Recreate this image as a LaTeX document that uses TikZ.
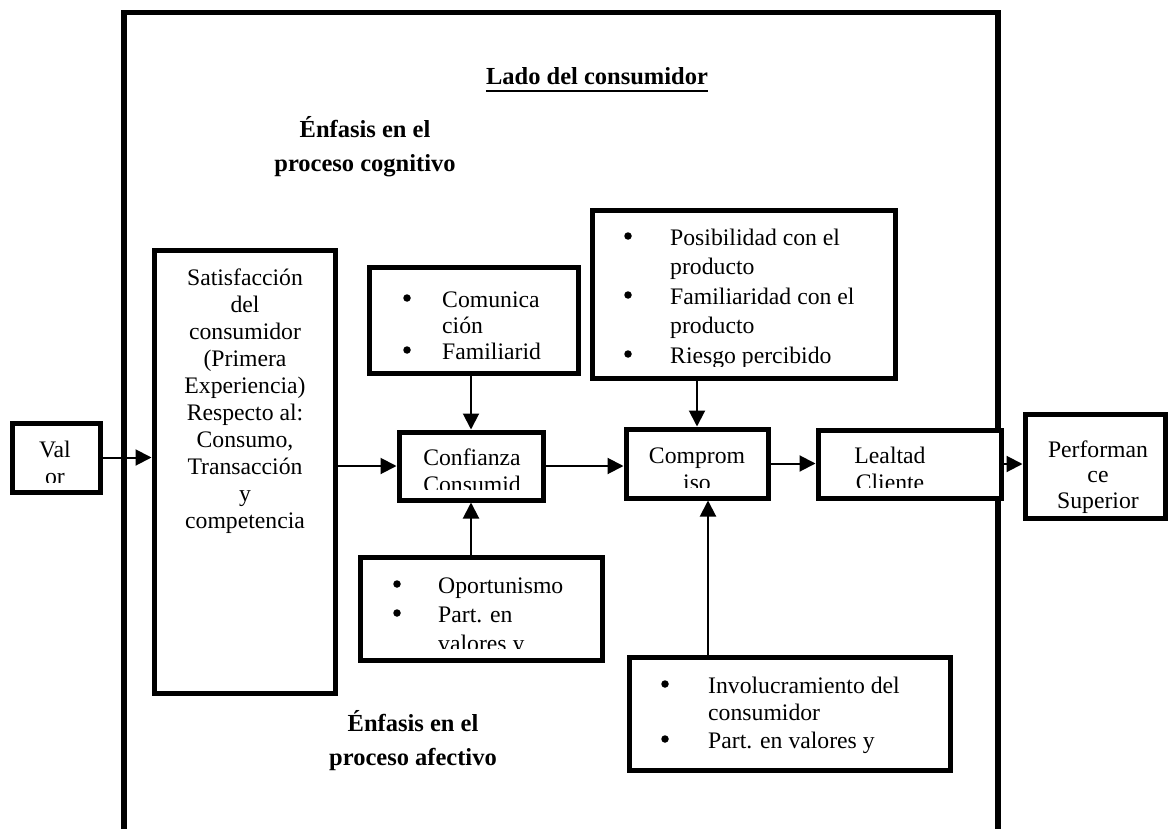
\documentclass[tikz,border=0pt]{standalone}
\usepackage{fontspec}
\setmainfont{Liberation Serif}
\usetikzlibrary{arrows.meta}
\tikzset{
  frame/.style={draw, line width=5.5pt, inner sep=0pt},
  box/.style={draw, line width=5pt, inner sep=0pt, fill=white},
  conn/.style={line width=2pt, -{Triangle[length=16pt,width=16pt]}},
  txt/.style={font=\fontsize{23.7}{27}\selectfont, inner sep=0pt, anchor=base},
  ltxt/.style={txt, anchor=base west},
  bul/.style={circle, fill=black, inner sep=0pt, minimum size=7.5pt},
  btxt/.style={font=\fontsize{24.5}{34}\selectfont\bfseries, inner sep=0pt, anchor=base},
}
\begin{document}
\begin{tikzpicture}[x=1pt,y=-1pt]
\useasboundingbox (0,0) rectangle (1169,829);
\clip (0,0) rectangle (1169,829);
% outer frame (open at the bottom of the page)
\node[frame, minimum width=874, minimum height=900] (frm) at (561,462.3) {};
% headings
\node[btxt] (title) at (597,85) {Lado del consumidor};
\draw[line width=1.6pt] ([yshift=-6pt]title.base west) -- ([yshift=-6pt]title.base east);
\node[btxt] (cog1) at (365,138) {Énfasis en el};
\node[btxt] (cog2) at (365,172) {proceso cognitivo};
\node[btxt] (af1) at (413,731) {Énfasis en el};
\node[btxt] (af2) at (413,765) {proceso afectivo};
% boxes
\node[box, minimum width=88, minimum height=69] (val) at (56,457.5) {};
\node[box, minimum width=181, minimum height=443] (sat) at (244.5,471.5) {};
\node[box, minimum width=144, minimum height=68] (conf) at (471,466) {};
\node[box, minimum width=142, minimum height=69] (comp) at (697,463.5) {};
\node[box, minimum width=183, minimum height=68] (leal) at (909.5,464) {};
\node[box, minimum width=140, minimum height=104] (perf) at (1095,466) {};
\node[box, minimum width=209, minimum height=106] (comun) at (473.5,320) {};
\node[box, minimum width=242, minimum height=103] (opor) at (481,608.5) {};
\node[box, minimum width=303, minimum height=168] (posib) at (743.5,294) {};
\node[box, minimum width=321, minimum height=113] (invol) at (789.5,713.5) {};
% texts
\begin{scope}
\clip (14,425) rectangle (98,482);
\node[txt] (val1) at (55,457) {Val};
\node[txt] (val2) at (55,484) {or};
\end{scope}
\node[txt] (s0) at (245,285) {Satisfacción};
\node[txt] (s1) at (245,312) {del};
\node[txt] (s2) at (245,339) {consumidor};
\node[txt] (s3) at (245,366) {(Primera};
\node[txt] (s4) at (245,393) {Experiencia)};
\node[txt] (s5) at (245,420) {Respecto al:};
\node[txt] (s6) at (245,447) {Consumo,};
\node[txt] (s7) at (245,474) {Transacción};
\node[txt] (s8) at (245,501) {y};
\node[txt] (s9) at (245,528) {competencia};
\begin{scope}
\clip (401,434) rectangle (541,489);
\node[txt] (c1) at (472,465) {Confianza};
\node[txt] (c2) at (472,492) {Consumid};
\end{scope}
\begin{scope}
\clip (628,431) rectangle (766,487);
\node[txt] (m1) at (697,463) {Comprom};
\node[txt] (m2) at (697,490) {iso};
\end{scope}
\begin{scope}
\clip (820,432) rectangle (999,487);
\node[txt] (l1) at (890,463) {Lealtad};
\node[txt] (l2) at (890,490) {Cliente};
\end{scope}
\node[txt] (p1) at (1098,457) {Performan};
\node[txt] (p2) at (1098,482) {ce};
\node[txt] (p3) at (1098,508) {Superior};
% Comunicacion list
\node[bul] (cb1) at (407,298) {};
\node[ltxt] (ct1) at (442,307) {Comunica};
\node[ltxt] (ct2) at (442,333) {ción};
\node[bul] (cb2) at (407,350) {};
\node[ltxt] (ct3) at (442,359) {Familiarid};
% Oportunismo list
\begin{scope}
\clip (363,560) rectangle (600,648);
\node[bul] (ob1) at (397,584) {};
\node[ltxt] (ot1) at (438,593) {Oportunismo};
\node[bul] (ob2) at (397,613) {};
\node[ltxt] (ot2) at (438,622) {Part. en};
\node[ltxt] (ot3) at (438,651) {valores y};
\end{scope}
% Posibilidad list
\begin{scope}
\clip (595,213) rectangle (892,366);
\node[bul] (pb1) at (628,236) {};
\node[ltxt] (pt1) at (670,245) {Posibilidad con el};
\node[ltxt] (pt2) at (670,274.5) {producto};
\node[bul] (pb2) at (628,295) {};
\node[ltxt] (pt3) at (670,304) {Familiaridad con el};
\node[ltxt] (pt4) at (670,333.5) {producto};
\node[bul] (pb3) at (628,354) {};
\node[ltxt] (pt5) at (670,363) {Riesgo percibido};
\end{scope}
% Involucramiento list
\node[bul] (ib1) at (665,684) {};
\node[ltxt] (it1) at (708,693) {Involucramiento del};
\node[ltxt] (it2) at (708,720) {consumidor};
\node[bul] (ib2) at (665,739) {};
\node[ltxt] (it3) at (708,748) {Part. en valores y};
% connectors
\draw[conn] (val.east) -- (val.east -| sat.west);
\draw[conn] (conf.west -| sat.east) -- (conf.west);
\draw[conn] (conf.east) -- (conf.east -| comp.west);
\draw[conn] (comp.east) -- (comp.east -| leal.west);
\draw[conn] (leal.east) -- (leal.east -| perf.west);
\draw[conn] (comun.south -| conf.north) -- (conf.north);
\draw[conn] (opor.north -| conf.south) -- (conf.south);
\draw[conn] (posib.south -| comp.north) -- (comp.north);
\draw[conn] ([xshift=11pt]comp.south |- invol.north) -- ([xshift=11pt]comp.south);
\end{tikzpicture}
\end{document}
